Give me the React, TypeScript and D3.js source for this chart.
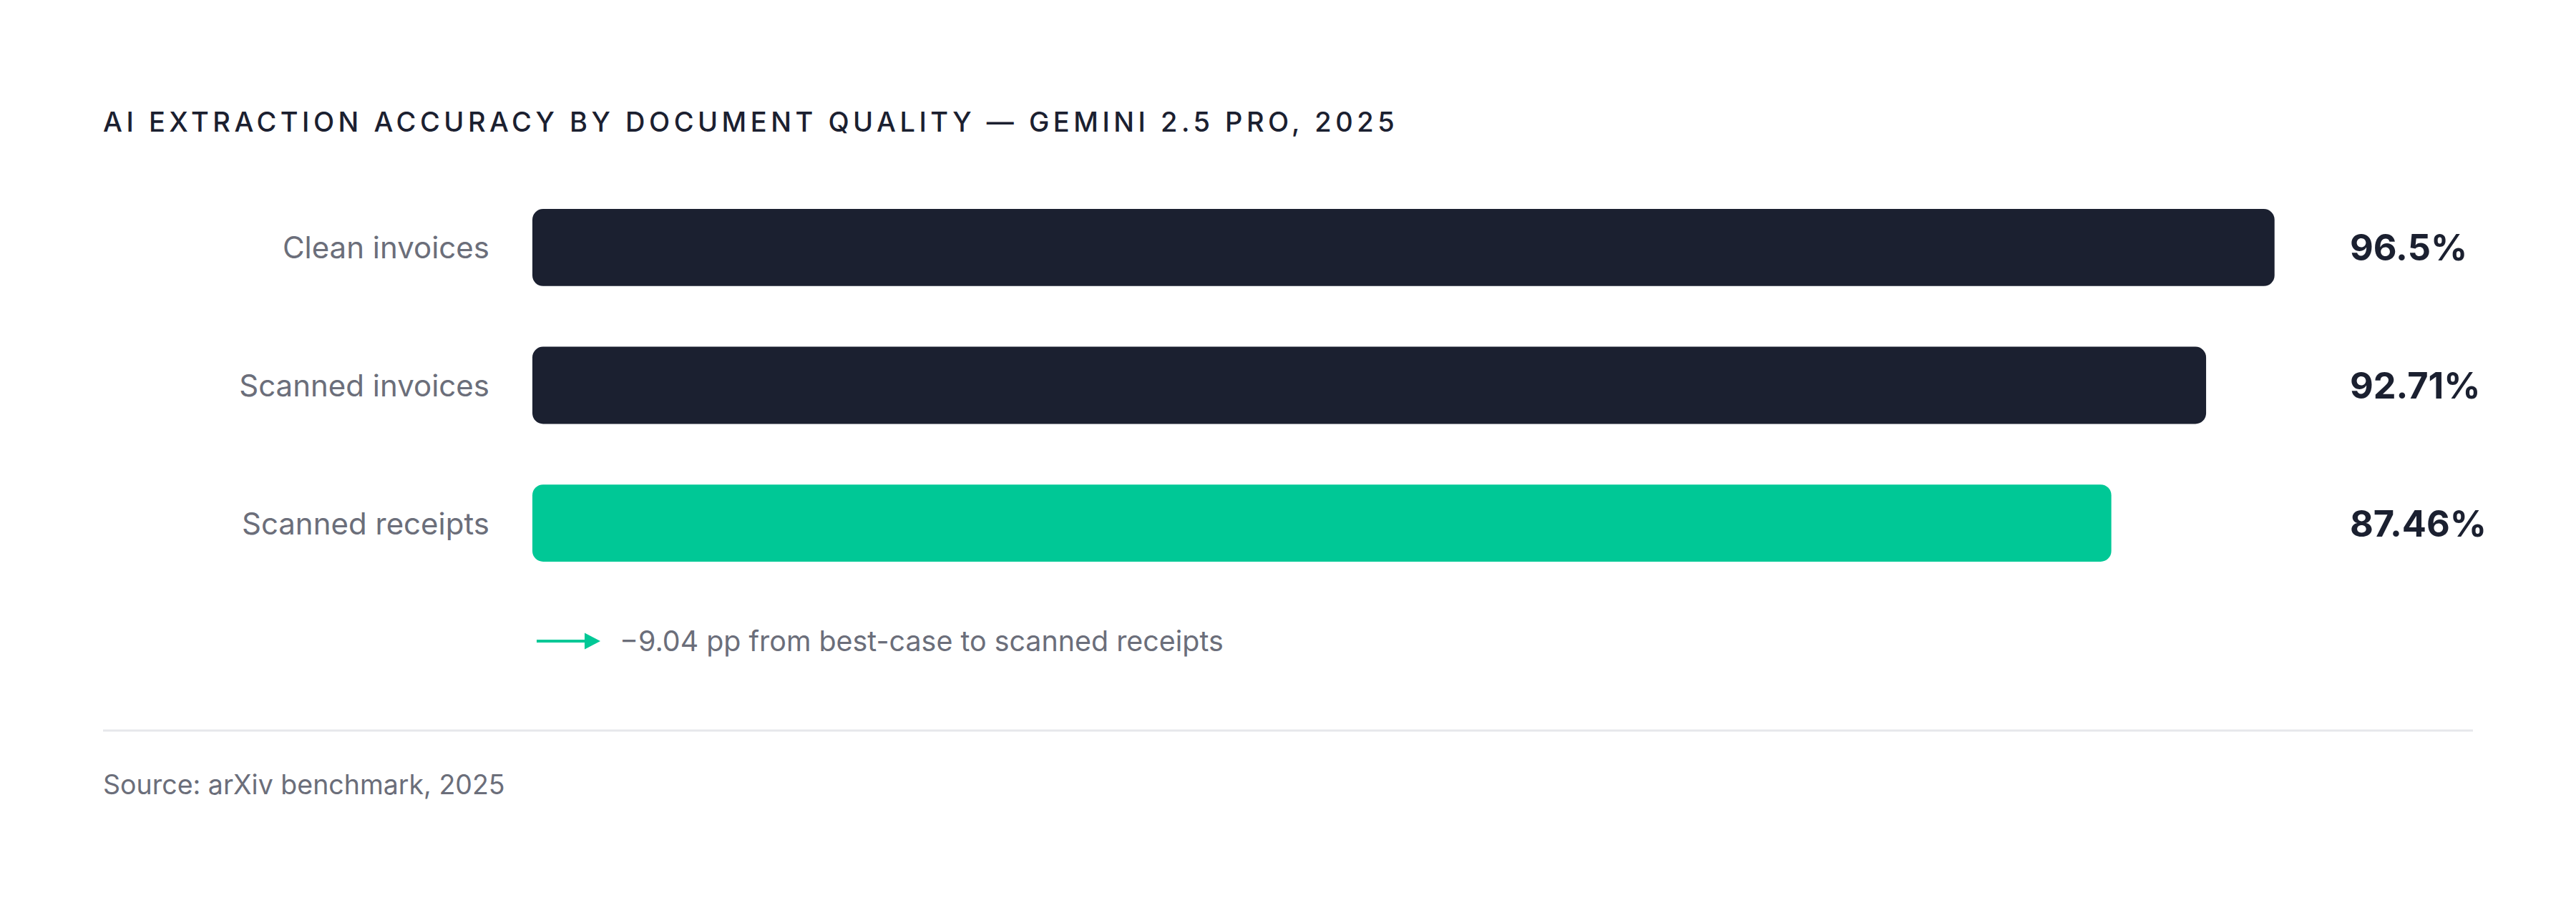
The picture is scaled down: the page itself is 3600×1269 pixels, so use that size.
import { useEffect } from 'react'
import * as d3 from 'd3'

const categories = ['Clean invoices', 'Scanned invoices', 'Scanned receipts']
const accuracy = [96.5, 92.71, 87.46]
const valueLabels = ['96.5%', '92.71%', '87.46%']
const highlighted = ['Scanned receipts']

const title = 'AI EXTRACTION ACCURACY BY DOCUMENT QUALITY — GEMINI 2.5 PRO, 2025'
const note = '−9.04 pp from best-case to scanned receipts'
const source = 'Source: arXiv benchmark, 2025'

const width = 3600
const height = 1269
const font = 'Inter, "Noto Sans", sans-serif'
const dark = '#1b2030'
const green = '#00c896'
const grey = '#6b6e7a'

export default function App() {
  useEffect(() => {
    document.body.style.margin = '0'
  }, [])

  const x = d3.scaleLinear().domain([0, 100]).range([744, 3267])
  const y = d3.scaleBand<string>().domain(categories).range([292, 785]).paddingInner(0.44)

  const rows = categories.map((c, i) => ({ c, v: accuracy[i], label: valueLabels[i] }))

  return (
    <svg width={width} height={height} style={{ display: 'block', background: '#fff' }}>
      <text x={144} y={184} fill={dark} fontFamily={font} fontSize={38} fontWeight={500} letterSpacing={5.5}>
        {title}
      </text>

      {rows.map((d) => {
        const yc = (y(d.c) ?? 0) + y.bandwidth() / 2
        return (
          <g key={d.c}>
            <text
              x={684}
              y={yc}
              textAnchor="end"
              dominantBaseline="central"
              fill={grey}
              fontFamily={font}
              fontSize={42}
            >
              {d.c}
            </text>
            <rect
              x={x(0)}
              y={y(d.c)}
              width={x(d.v) - x(0)}
              height={y.bandwidth()}
              rx={15}
              fill={highlighted.includes(d.c) ? green : dark}
            />
            <text
              x={x(100) + 17}
              y={yc}
              dominantBaseline="central"
              fill={dark}
              fontFamily={font}
              fontSize={50.5}
              fontWeight={700}
            >
              {d.label}
            </text>
          </g>
        )
      })}

      {/* annotation */}
      <line x1={750} x2={820} y1={896} y2={896} stroke={green} strokeWidth={4} />
      <path d="M817,884.5 L839,896 L817,907.5 Z" fill={green} />
      <text x={866} y={896} dominantBaseline="central" fill={grey} fontFamily={font} fontSize={39.4}>
        {note}
      </text>

      <line x1={144} x2={3456} y1={1021} y2={1021} stroke="#e6e7eb" strokeWidth={3} />

      <text x={144} y={1110} fill={grey} fontFamily={font} fontSize={37.5}>
        {source}
      </text>
    </svg>
  )
}
